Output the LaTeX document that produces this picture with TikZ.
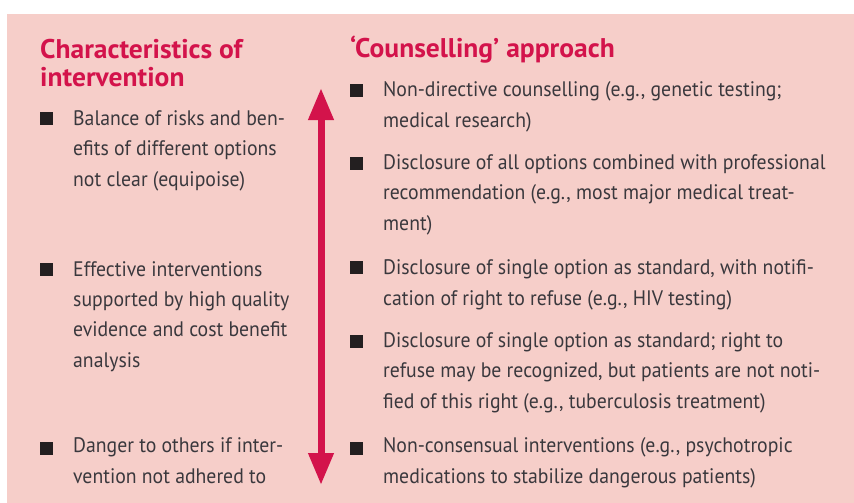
\documentclass[tikz,border=0pt]{standalone}
\usepackage{fontspec}
\setmainfont[FakeStretch=0.94]{PT Sans}
\newfontfamily\headfont[FakeStretch=1.02]{PT Sans}
\usetikzlibrary{arrows.meta}
\definecolor{boxpink}{HTML}{F6CEC9}
\definecolor{headred}{HTML}{D3134B}
\definecolor{bodygray}{HTML}{3A383D}
\definecolor{bulletblack}{HTML}{231F20}

\begin{document}
\begin{tikzpicture}[x=1pt,y=-1pt]
  % text nodes are placed at the baseline of their last line
  \tikzstyle{heading} = [anchor=base west, inner sep=0, align=left, text=headred, font=\headfont\fontsize{27}{28.5}\selectfont\bfseries]
  \tikzstyle{entry} = [anchor=base west, inner sep=0, align=left, text=bodygray, font=\fontsize{21}{30.3}\selectfont]
  \tikzstyle{square} = [fill=bulletblack, minimum size=13pt, inner sep=0]
  \useasboundingbox (0,0) rectangle (854,503);
  \fill[boxpink] (7,14) rectangle (854,503);

  % left column
  \draw (40,87) node[heading] (charhead) {Characteristics of\\intervention};
  \draw (46.5,118.5) node[square] (sqbalance) {};
  \draw (73,186) node[entry] (balance) {Balance of risks and ben-\\efits of different options\\not clear (equipoise)};
  \draw (46.5,269.5) node[square] (sqeffective) {};
  \draw (73,367) node[entry] (effective) {Effective interventions\\supported by high quality\\evidence and cost benefit\\analysis};
  \draw (46.5,448.5) node[square] (sqdanger) {};
  \draw (73,483) node[entry] (danger) {Danger to others if inter-\\vention not adhered to};

  % the scale
  \coordinate (scaletop) at (321,88);
  \coordinate (scalebottom) at (321,485);
  \draw [{Triangle[length=32pt,width=24pt]}-{Triangle[length=32pt,width=24pt]}, line width=7pt, headred] (scaletop) -- (scalebottom);

  % right column
  \draw (350,58) node[heading] (counshead) {‘Counselling’ approach};
  \draw (356.5,90.5) node[square] (sqnondir) {};
  \draw (383,127) node[entry] (nondir) {Non-directive counselling (e.g., genetic testing;\\medical research)};
  \draw (356.5,163.5) node[square] (sqalloptions) {};
  \draw (383,230) node[entry] (alloptions) {Disclosure of all options combined with professional\\recommendation (e.g., most major medical treat-\\ment)};
  \draw (356.5,267.5) node[square] (sqnotified) {};
  \draw (383,305) node[entry] (notified) {Disclosure of single option as standard, with notifi-\\cation of right to refuse (e.g., HIV testing)};
  \draw (356.5,341.5) node[square] (sqnotnotified) {};
  \draw (383,408) node[entry] (notnotified) {Disclosure of single option as standard; right to\\refuse may be recognized, but patients are not noti-\\fied of this right (e.g., tuberculosis treatment)};
  \draw (356.5,448.5) node[square] (sqnoncons) {};
  \draw (383,483) node[entry] (noncons) {Non-consensual interventions (e.g., psychotropic\\medications to stabilize dangerous patients)};
\end{tikzpicture}
\end{document}
